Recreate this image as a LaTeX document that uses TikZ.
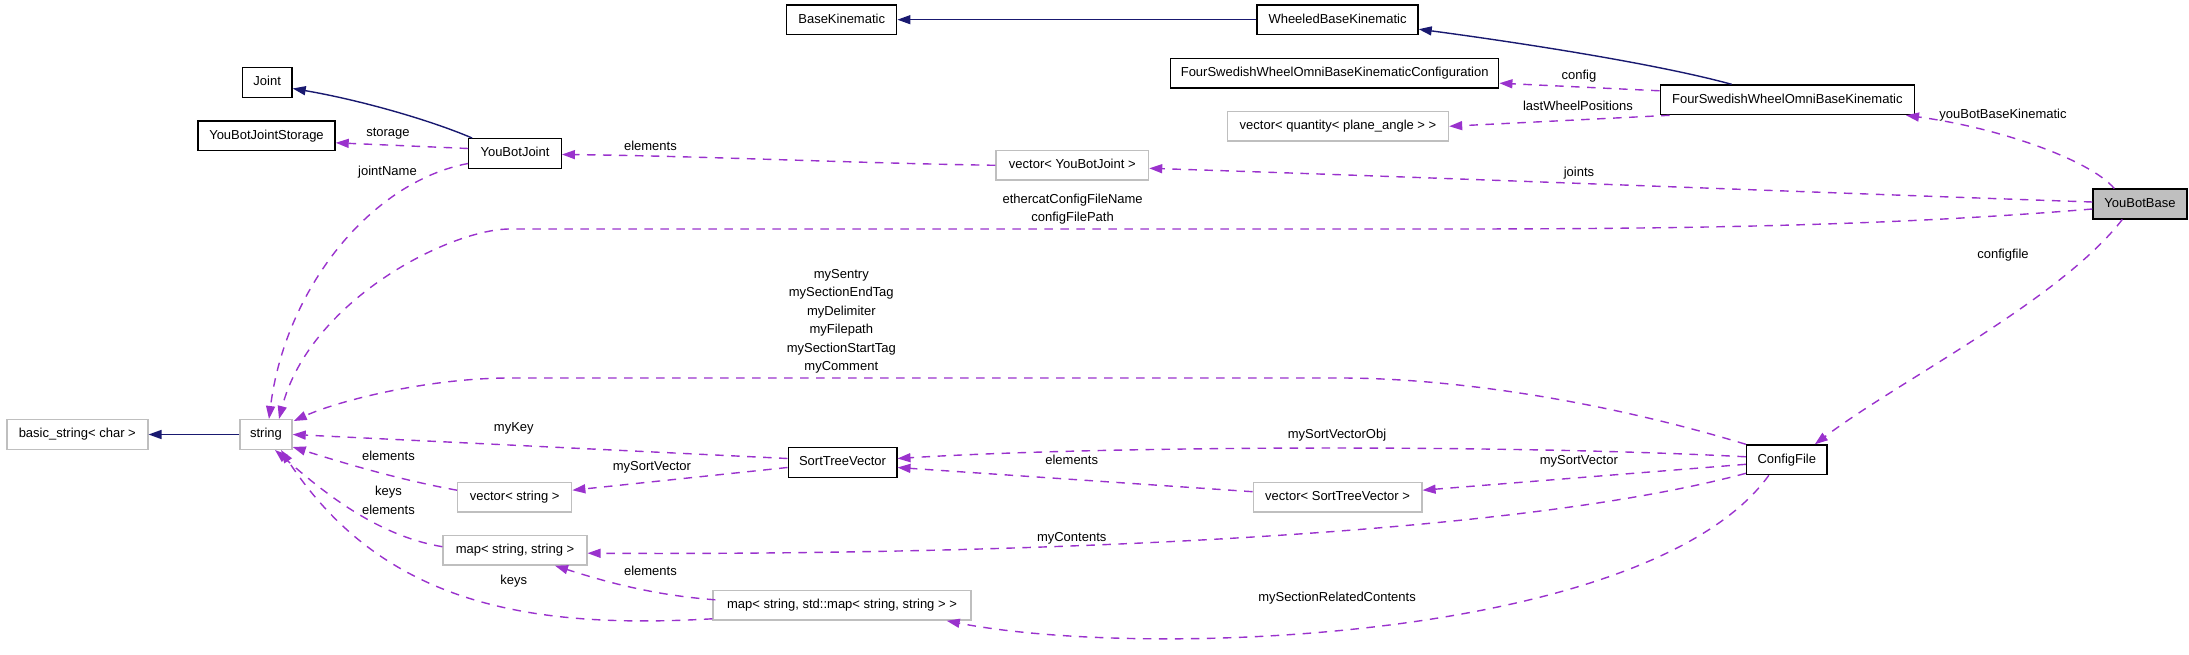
\documentclass[tikz,border=0pt]{standalone}
\usepackage{fontspec}
\setmainfont{Liberation Sans}
\usetikzlibrary{arrows.meta,calc}
\definecolor{dep}{HTML}{9A32CD}
\definecolor{inhc}{HTML}{191970}
\definecolor{undoc}{HTML}{BFBFBF}
\definecolor{selfc}{HTML}{BFBFBF}
\begin{document}
\begin{tikzpicture}[x=1pt,y=-1pt,
  font=\fontsize{13}{15.6}\selectfont,
  box/.style={draw=black,line width=1.4pt,rectangle,inner sep=0pt,minimum height=29.6pt,text height=9.5pt,text depth=2.7pt,fill=white},
  ubox/.style={box,draw=undoc},
  lbl/.style={inner sep=0pt,text height=9.5pt,text depth=2.7pt},
  inh/.style={draw=inhc,line width=1.4pt,-{Triangle[length=13pt,width=9pt,fill=inhc]}},
  dep/.style={draw=dep,line width=1.4pt,dash pattern=on 8.5pt off 7.5pt,-{Triangle[length=13pt,width=9pt,fill=dep]}}
]
\useasboundingbox (0,0) rectangle (2189,655);
% nodes
\node[box,minimum width=110pt] (basek) at (841.7,19.7) {BaseKinematic};
\node[box,minimum width=161pt] (wheeled) at (1337.5,19.7) {WheeledBaseKinematic};
\node[box,minimum width=328pt] (fswconf) at (1334.7,73.2) {FourSwedishWheelOmniBaseKinematicConfiguration};
\node[ubox,minimum width=221pt] (vecq) at (1338,126.3) {vector< quantity< plane\_angle > >};
\node[box,minimum width=254pt] (fsw) at (1787.3,99.8) {FourSwedishWheelOmniBaseKinematic};
\node[box,minimum width=49.6pt] (joint) at (267.2,82.5) {Joint};
\node[box,minimum width=137pt] (storage) at (266.5,135.8) {YouBotJointStorage};
\node[box,minimum width=92.5pt] (ybj) at (515,153.5) {YouBotJoint};
\node[ubox,minimum width=152.5pt] (vecj) at (1072.3,165.3) {vector< YouBotJoint >};
\node[box,fill=selfc,minimum width=94pt] (ybb) at (2140,204) {YouBotBase};
\node[ubox,minimum width=141pt] (basics) at (77.3,434.5) {basic\_string< char >};
\node[ubox,minimum width=52pt] (string) at (266,434.5) {string};
\node[box,minimum width=108.6pt] (stv) at (842.5,462.5) {SortTreeVector};
\node[box,minimum width=80.5pt] (cfg) at (1786.8,459.8) {ConfigFile};
\node[ubox,minimum width=114pt] (vecs) at (514.7,497.2) {vector< string >};
\node[ubox,minimum width=168.6pt] (vecstv) at (1337.6,497.2) {vector< SortTreeVector >};
\node[ubox,minimum width=143.7pt] (maps) at (515,550.2) {map< string, string >};
\node[ubox,minimum width=258pt] (mapm) at (842,605.3) {map< string, std::map< string, string > >};
% inheritance
\draw[inh] (wheeled.west) -- (basek.east);
\draw[inh] ($(fsw.north west)+(72,0)$) .. controls (1650,62) and (1500,40) .. ($(wheeled.east)+(0,9.5)$);
\draw[inh] ($(ybj.north west)+(4,0)$) .. controls (430,120) and (360,100) .. ($(joint.east)+(0,6)$);
\draw[inh] (string.west) -- (basics.east);
% dependencies
\draw[dep] ($(ybj.west)+(0,-5)$) -- ($(storage.east)+(0,7)$);
\draw[dep] (vecj.west) .. controls (850,163) and (700,156) .. ($(ybj.east)+(0,1)$);
\draw[dep] ($(ybj.west)+(0,10)$) .. controls (370,182) and (285,290) .. ($(string.north)+(3,0)$);
\draw[dep] ($(ybb.west)+(0,-2)$) .. controls (1800,192) and (1450,178) .. ($(vecj.east)+(0,3)$);
\draw[dep] ($(ybb.north west)+(22,0)$) .. controls (2090,160) and (2000,128) .. ($(fsw.south east)+(-9,0)$);
\draw[dep] ($(fsw.west)+(0,-9)$) -- ($(fswconf.east)+(0,10)$);
\draw[dep] ($(fsw.south west)+(10,0)$) -- (vecq.east);
\draw[dep] ($(ybb.west)+(0,5)$) .. controls (1900,225) and (1700,229) .. (1450,229) -- (510,229) .. controls (450,229) and (310,300) .. ($(string.north)+(13,0)$);
\draw[dep] ($(ybb.south west)+(30,0)$) .. controls (2060,300) and (1900,380) .. ($(cfg.north)+(28,0)$);
\draw[dep] (cfg.north west) .. controls (1600,400) and (1450,378) .. (1340,378) -- (510,378) .. controls (430,378) and (340,400) .. ($(string.north east)+(1,2)$);
\draw[dep] ($(cfg.west)+(0,-3)$) .. controls (1500,444) and (1100,446) .. ($(stv.east)+(0,-4)$);
\draw[dep] ($(cfg.west)+(0,4.5)$) -- ($(vecstv.east)+(0,-7)$);
\draw[dep] ($(cfg.south west)+(0,-2)$) .. controls (1480,545) and (900,555) .. ($(maps.east)+(0,3)$);
\draw[dep] ($(cfg.south west)+(23,0)$) .. controls (1650,640) and (1150,660) .. ($(mapm.south east)+(-25,0)$);
\draw[dep] ($(vecstv.west)+(0,-5.5)$) -- ($(stv.east)+(0,5)$);
\draw[dep] ($(stv.west)+(0,-4)$) -- (string.east);
\draw[dep] ($(stv.west)+(0,5)$) -- ($(vecs.east)+(0,-7)$);
\draw[dep] ($(vecs.west)+(0,-7)$) .. controls (400,480) and (340,462) .. ($(string.south east)+(0,-3)$);
\draw[dep] ($(maps.west)+(0,-3.5)$) .. controls (370,535) and (310,480) .. ($(string.south)+(9,0)$);
\draw[dep] ($(mapm.west)+(0,13.5)$) .. controls (520,630) and (380,600) .. ($(string.south)+(15,0)$);
\draw[dep] ($(mapm.north west)+(3,10)$) .. controls (650,595) and (600,580) .. ($(maps.south)+(40,0)$);
% labels
\node[lbl] (l1) at (388,133) {storage};
\node[lbl] (l2) at (650.4,147) {elements};
\node[lbl] (l3) at (387.5,172) {jointName};
\node[lbl] (l4) at (1579,76) {config};
\node[lbl] (l5) at (1578,106.7) {lastWheelPositions};
\node[lbl] (l6) at (2003,115) {youBotBaseKinematic};
\node[lbl] (l7) at (1579,172.7) {joints};
\node[lbl] (l8) at (1072.6,200) {ethercatConfigFileName};
\node[lbl] (l9) at (1072.6,218.4) {configFilePath};
\node[lbl] (l10) at (2003,255) {configfile};
\node[lbl] (l11) at (841.3,275) {mySentry};
\node[lbl] (l12) at (841.3,293.5) {mySectionEndTag};
\node[lbl] (l13) at (841.3,312) {myDelimiter};
\node[lbl] (l14) at (841.3,330.5) {myFilepath};
\node[lbl] (l15) at (841.3,349) {mySectionStartTag};
\node[lbl] (l16) at (841.3,367.5) {myComment};
\node[lbl] (l17) at (513.8,428.3) {myKey};
\node[lbl] (l18) at (388.4,456.7) {elements};
\node[lbl] (l19) at (651.9,466.7) {mySortVector};
\node[lbl] (l20) at (388.4,491.7) {keys};
\node[lbl] (l21) at (388.4,510.7) {elements};
\node[lbl] (l22) at (650.4,571.7) {elements};
\node[lbl] (l23) at (513.8,580.7) {keys};
\node[lbl] (l24) at (1337,435) {mySortVectorObj};
\node[lbl] (l25) at (1071.7,461) {elements};
\node[lbl] (l26) at (1578.8,460.7) {mySortVector};
\node[lbl] (l27) at (1071.7,538.3) {myContents};
\node[lbl] (l28) at (1337,598.3) {mySectionRelatedContents};
\end{tikzpicture}
\end{document}
